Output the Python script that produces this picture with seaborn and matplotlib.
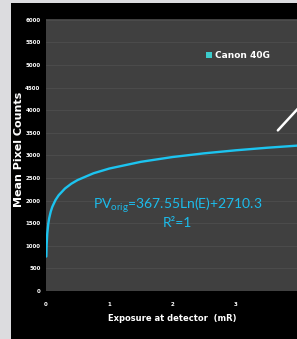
import seaborn as sns
import pandas as pd
from matplotlib import pyplot as plt
from matplotlib.patches import Patch, Rectangle

# values
exposure = [0.005, 0.01, 0.02, 0.035, 0.05, 0.075, 0.1, 0.15, 0.2, 0.3, 0.4, 0.5,
            0.75, 1.0, 1.5, 2.0, 2.5, 3.0, 3.5, 4.0]
pixel_counts = [763, 1018, 1272, 1478, 1609, 1758, 1864, 2013, 2119, 2268, 2374, 2456,
                2605, 2710, 2859, 2965, 3047, 3114, 3171, 3220]
x_ticks = [0, 1, 2, 3]
y_ticks = list(range(0, 6001, 500))
series_name = 'Canon 40G'
fit_text = r'PV$_{\mathregular{orig}}$=367.55Ln(E)+2710.3'
r2_text = 'R²=1'

df = pd.DataFrame({'exposure': exposure, 'counts': pixel_counts})

sns.set_style('dark')
plt.rcParams['font.family'] = ['DejaVu Sans']

fig = plt.figure(figsize=(2.97, 3.39), dpi=100)
fig.patch.set_facecolor('#dcdcdf')
fig.patches.append(Rectangle((11 / 297, 0), 1, 1 - 3 / 339, transform=fig.transFigure,
                             facecolor='black', edgecolor='none', zorder=-10))

ax = fig.add_axes([46 / 297, 48 / 339, 253 / 297, 272 / 339])
ax.set_facecolor('#404040')
sns.lineplot(data=df, x='exposure', y='counts', ax=ax, color='#1cc4f0', linewidth=1.7)

ax.set_xlim(0, 4)
ax.set_ylim(0, 6020)
ax.set_xticks(x_ticks)
ax.set_yticks(y_ticks)
ax.grid(True, axis='y', color='#4b4b4b', linewidth=0.8)
ax.grid(False, axis='x')
for s in ax.spines.values():
    s.set_visible(False)
ax.tick_params(colors='white', labelsize=4, length=0)
ax.tick_params(axis='y', pad=4)
ax.tick_params(axis='x', pad=8)
for lab in ax.get_xticklabels() + ax.get_yticklabels():
    lab.set_fontweight('bold')

ax.set_xlabel('Exposure at detector  (mR)', color='white', fontsize=6, fontweight='bold')
ax.xaxis.set_label_coords(0.5, -0.085)
ax.set_ylabel('Mean Pixel Counts', color='white', fontsize=8, fontweight='bold')
ax.yaxis.set_label_coords(-22 / 253, 0.52)

ax.text(0.52, 0.318, fit_text, transform=ax.transAxes, ha='center', va='center',
        color='#1cbcec', fontsize=10, family=['Lato', 'DejaVu Sans'])
ax.text(0.52, 0.25, r2_text, transform=ax.transAxes, ha='center', va='center',
        color='#1cbcec', fontsize=10, family=['Lato', 'DejaVu Sans'])

ax.legend(handles=[Patch(facecolor='#3ccccc', edgecolor='none')], labels=[series_name],
          loc='center left', bbox_to_anchor=(0.6, 0.865), frameon=False,
          handlelength=0.65, handleheight=0.65, handletextpad=0.35,
          prop={'size': 6.5, 'weight': 'bold'}, labelcolor='white')

ax.annotate('', xy=(1.01, 0.685), xytext=(0.909, 0.583), xycoords='axes fraction',
            arrowprops=dict(arrowstyle='-', color='white', linewidth=1.8))

fig.savefig('out.png', dpi=100, facecolor=fig.get_facecolor())
